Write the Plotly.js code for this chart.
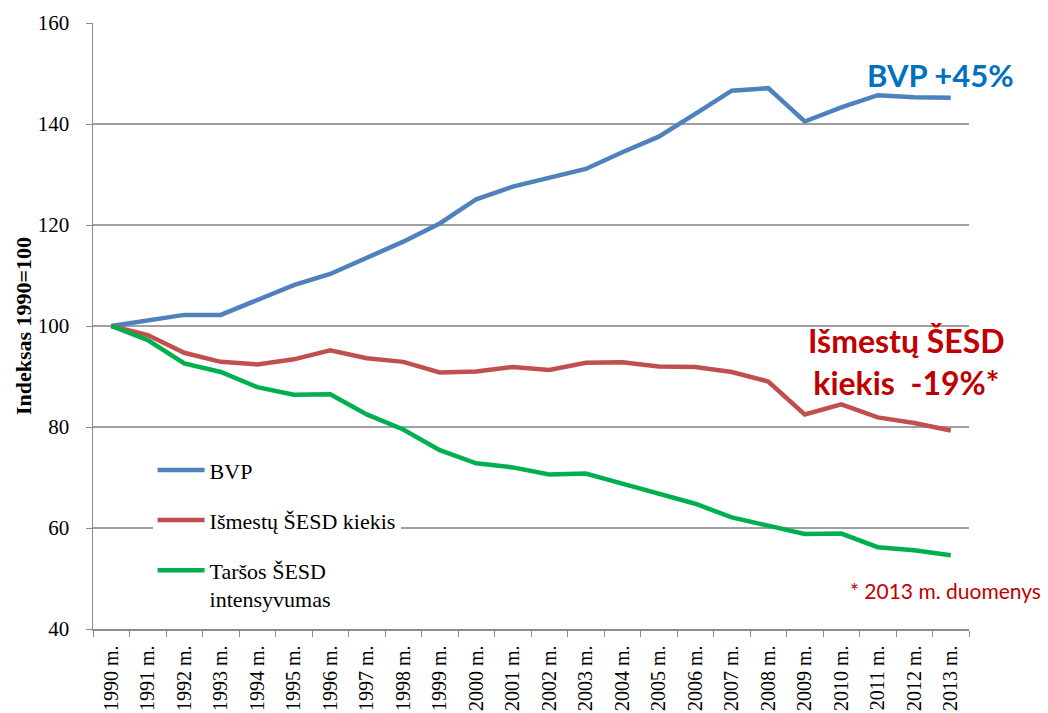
<!DOCTYPE html>
<html>
<head>
<meta charset="utf-8">
<script src="https://cdn.plot.ly/plotly-3.0.1.min.js"></script>
<style>
  html, body { margin: 0; padding: 0; background: #fff; }
  #chart { width: 1048px; height: 713px; }
</style>
</head>
<body>
<div id="chart"></div>
<script>
var years = ["1990 m.","1991 m.","1992 m.","1993 m.","1994 m.","1995 m.","1996 m.","1997 m.","1998 m.","1999 m.","2000 m.","2001 m.","2002 m.","2003 m.","2004 m.","2005 m.","2006 m.","2007 m.","2008 m.","2009 m.","2010 m.","2011 m.","2012 m.","2013 m."];

var bvp = [100, 101.2, 102.2, 102.2, 105.2, 108.1, 110.3, 113.4, 116.7, 120.3, 125.1, 127.6, 129.3, 131.1, 134.4, 137.5, 142.0, 146.6, 147.1, 140.5, 143.3, 145.7, 145.3, 145.2];

var emissions = [100, 98.2, 94.7, 92.9, 92.4, 93.4, 95.2, 93.6, 92.9, 90.8, 91.0, 91.9, 91.3, 92.7, 92.8, 92.0, 91.9, 90.9, 89.0, 82.5, 84.5, 81.9, 80.8, 79.3];

var intensity = [100, 97.2, 92.6, 90.9, 87.9, 86.4, 86.5, 82.5, 79.5, 75.4, 72.8, 72.0, 70.6, 70.8, 68.8, 66.8, 64.8, 62.1, 60.5, 58.8, 58.9, 56.2, 55.6, 54.6];

var seriesNames = ["BVP", "Išmestų ŠESD kiekis", "Taršos ŠESD<br>intensyvumas"];
var yTicks = [40, 60, 80, 100, 120, 140, 160];

var serif = "Liberation Serif, Times New Roman, serif";
var sans = "Lato, Open Sans, sans-serif";

var traces = [
  {x: years, y: bvp, name: seriesNames[0], legendgroup: "a", type: "scatter", mode: "lines",
   line: {color: "#4F81BD", width: 4.5}},
  {x: years, y: emissions, name: seriesNames[1], legendgroup: "b", type: "scatter", mode: "lines",
   line: {color: "#C0504D", width: 4.5}},
  {x: years, y: intensity, name: seriesNames[2], legendgroup: "c", type: "scatter", mode: "lines",
   line: {color: "#00B050", width: 4.5}}
];

var layout = {
  width: 1048, height: 713,
  margin: {l: 93, r: 79, t: 23, b: 84},
  paper_bgcolor: "#fff", plot_bgcolor: "#fff",
  font: {family: serif, size: 20, color: "#000"},
  showlegend: true,
  legend: {
    x: 0.068, y: 0.2967, xanchor: "left", yanchor: "top",
    bgcolor: "#fff", borderwidth: 0,
    font: {family: serif, size: 22, color: "#000"},
    traceorder: "grouped", tracegroupgap: 18.5,
    itemwidth: 47, valign: "top"
  },
  xaxis: {
    type: "category",
    range: [-0.5, 23.5],
    tickangle: -90,
    ticks: "outside", tickson: "boundaries", ticklen: 6, tickcolor: "#8c8c8c",
    showline: true, linecolor: "#8c8c8c", linewidth: 1.5,
    showgrid: false, zeroline: false,
    tickfont: {family: serif, size: 20, color: "#000"},
    ticklabelstandoff: 7
  },
  yaxis: {
    range: [40, 160],
    tickvals: yTicks,
    ticks: "outside", ticklen: 6, tickcolor: "#8c8c8c",
    showline: true, linecolor: "#8c8c8c", linewidth: 1.5,
    showgrid: true, gridcolor: "#a0a0a0", gridwidth: 1.5,
    zeroline: false,
    tickfont: {family: serif, size: 21, color: "#000"},
    ticklabelstandoff: 12,
    title: {text: "<b>Indeksas 1990=100</b>", font: {family: serif, size: 22, color: "#000"}, standoff: 0}
  },
  annotations: [
    {xref: "paper", yref: "paper", x: 0.968, y: 0.914, xanchor: "center", yanchor: "middle",
     text: "<b>BVP +45%</b>", showarrow: false,
     font: {family: sans, size: 31, color: "#0070C0"}},
    {xref: "paper", yref: "paper", x: 0.929, y: 0.442, xanchor: "center", yanchor: "middle",
     text: "<b>Išmestų ŠESD<br>kiekis  -19%*</b>", showarrow: false, align: "center",
     font: {family: sans, size: 32, color: "#C00000"}},
    {xref: "paper", yref: "paper", x: 0.973, y: 0.063, xanchor: "center", yanchor: "middle",
     text: "* 2013 m. duomenys", showarrow: false,
     font: {family: sans, size: 21, color: "#C00000"}}
  ]
};

Plotly.newPlot("chart", traces, layout, {displayModeBar: false, staticPlot: true});
</script>
</body>
</html>
